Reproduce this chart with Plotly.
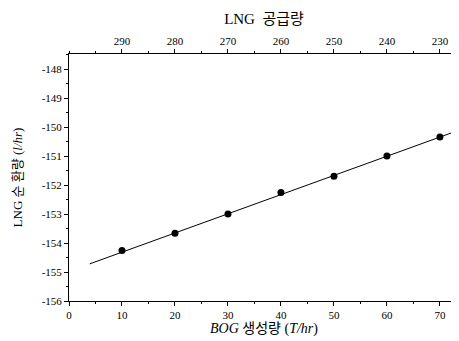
import plotly.graph_objects as go

bog = [10, 20, 30, 40, 50, 60, 70]
lng_circ = [-154.26, -153.66, -153.0, -152.26, -151.70, -151.0, -150.34]
fit_x = [3.9, 74.0]
fit_y = [-154.72, -150.08]
top_ticks = [290, 280, 270, 260, 250, 240, 230]
bottom_ticks = [0, 10, 20, 30, 40, 50, 60, 70]
y_ticks = [-156, -155, -154, -153, -152, -151, -150, -149, -148]
y_labels = ["-156", "-155", "-154", "-153", "-152", "-151", "-150", "-149", "-148"]

FONT = "Liberation Serif, DejaVu Serif, Noto Sans CJK KR"
OFF = 8  # page body margin

fig = go.Figure()
fig.add_trace(go.Scatter(x=fit_x, y=fit_y, mode="lines",
                         line=dict(color="black", width=1), showlegend=False))
fig.add_trace(go.Scatter(x=bog, y=lng_circ, mode="markers",
                         marker=dict(color="black", size=7), showlegend=False))
fig.add_trace(go.Scatter(x=[300 - v for v in bog], y=lng_circ, xaxis="x2",
                         mode="markers", marker=dict(opacity=0), showlegend=False,
                         hoverinfo="skip"))

fig.update_layout(
    width=459 - OFF, height=341 - OFF,
    margin=dict(l=69 - OFF, r=0, t=54 - OFF, b=40),
    plot_bgcolor="white", paper_bgcolor="white",
    font=dict(family=FONT, color="black", size=11),
    xaxis=dict(range=[0, 73.6], tickvals=bottom_ticks, showgrid=False, zeroline=False,
               showline=True, linecolor="black", linewidth=1,
               ticks="outside", ticklen=4, tickcolor="black",
               minor=dict(dtick=5, ticks="outside", ticklen=2, tickcolor="black"),
               tickfont=dict(size=11, family=FONT),
               title=dict(text="<i>BOG</i> 생성량 (<i>T/hr</i>)", font=dict(size=14, family=FONT),
                          standoff=0)),
    xaxis2=dict(range=[300, 226.4], tickvals=top_ticks, overlaying="x", side="top",
                showgrid=False, zeroline=False, showline=True, linecolor="black", linewidth=1,
                ticks="outside", ticklen=4, tickcolor="black",
                minor=dict(dtick=5, ticks="outside", ticklen=2, tickcolor="black"),
                tickfont=dict(size=11, family=FONT),
                title=dict(text="LNG  공급량", font=dict(size=15, family=FONT), standoff=6)),
    yaxis=dict(range=[-156, -147.48], tickvals=y_ticks, ticktext=y_labels,
               showgrid=False, zeroline=False,
               showline=True, linecolor="black", linewidth=1,
               ticks="outside", ticklen=4, tickcolor="black",
               minor=dict(dtick=0.5, ticks="outside", ticklen=2, tickcolor="black"),
               tickfont=dict(size=11, family=FONT),
               title=dict(text="LNG 순 환량 (<i>l/hr</i>)", font=dict(size=13, family=FONT),
                          standoff=16)),
)

fig.write_html("out.html")
